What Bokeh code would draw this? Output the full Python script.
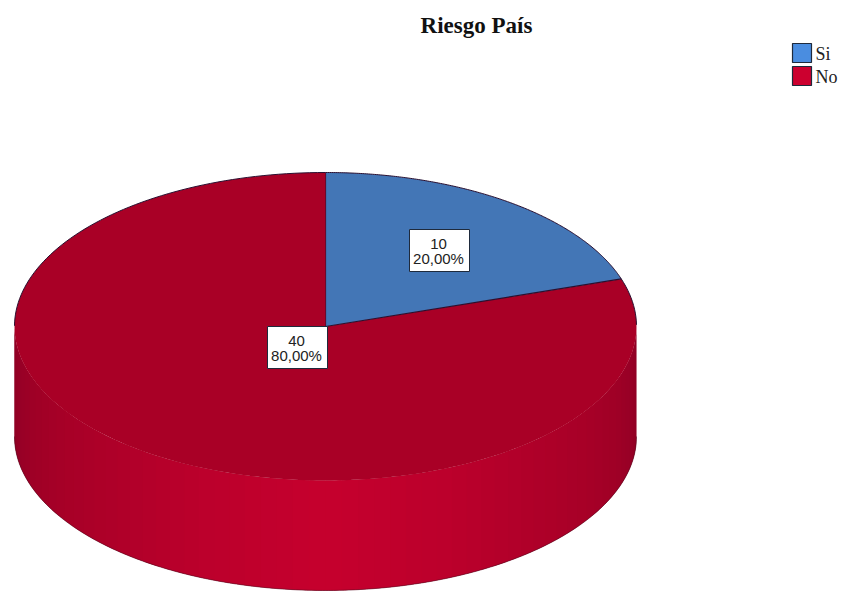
import numpy as np
from bokeh.plotting import figure
from bokeh.models import Range1d
from bokeh.core.properties import value
from bokeh.embed import file_html
from bokeh.resources import INLINE

title = "Riesgo País"
categories = ["Si", "No"]
counts = [10, 40]
percent_labels = ["20,00%", "80,00%"]
top_colors = ["#4376b6", "#a90026"]
legend_colors = ["#4a8de0", "#cc002f"]
edge_color = "#2a1030"

# page-pixel frame of the reference picture
CX, CY, RX, RY, DEPTH = 325.0, 326.0, 311.0, 154.0, 110.0

p = figure(width=843, height=591, output_backend="svg", toolbar_location=None,
           x_range=Range1d(0, 843), y_range=Range1d(591, 0),
           min_border=0, min_border_left=0, min_border_right=0,
           min_border_top=0, min_border_bottom=0, outline_line_color=None,
           background_fill_color="white", border_fill_color="white")
p.axis.visible = False
p.grid.visible = False


def rim(theta):
    return CX + RX * np.sin(theta), CY - RY * np.cos(theta)


# side wall: front half of the cylinder, shaded by angle; strips overlap so no seams show
shade_pos = [0.0, 0.1, 0.3, 0.5, 0.75, 1.0]
shade_r = [0x8c, 0x96, 0xa4, 0xae, 0xbc, 0xc6]
shade_g = [0x00, 0x00, 0x00, 0x00, 0x00, 0x00]
shade_b = [0x24, 0x26, 0x27, 0x29, 0x2c, 0x2e]
edges = np.radians(np.arange(90, 270.01, 3.0))
xs_side, ys_side, cols_side = [], [], []
for k, (a0, a1) in enumerate(zip(edges[:-1], edges[1:])):
    t = np.linspace(a0, min(a1 + np.radians(3.0), edges[-1]), 10)
    x, y = rim(t)
    xs_side.append(np.r_[x, x[::-1]])
    ys_side.append(np.r_[y, (y + DEPTH)[::-1]])
    # 0 at the silhouette edges, 1 at the front
    f = 1 - abs((a0 + a1) / 2 - np.pi) / (np.pi / 2)
    cols_side.append("#%02x%02x%02x" % (
        int(np.interp(f, shade_pos, shade_r)),
        int(np.interp(f, shade_pos, shade_g)),
        int(np.interp(f, shade_pos, shade_b))))
p.patches(xs_side, ys_side, fill_color=cols_side, line_color=None)

# lower outline of the wall
t = np.linspace(np.pi / 2, 3 * np.pi / 2, 180)
x, y = rim(t)
p.line(x, y + DEPTH, line_color="#5a0a20", line_width=1, line_alpha=0.6)

# top face, drawn clockwise from 12 o'clock, from the counts
fractions = np.array(counts, dtype=float) / sum(counts)
bounds = np.r_[0, np.cumsum(fractions)] * 2 * np.pi
for i in range(len(counts)):
    t = np.linspace(bounds[i], bounds[i + 1], 200)
    x, y = rim(t)
    p.patch(np.r_[CX, x, CX], np.r_[CY, y, CY], fill_color=top_colors[i], line_color=None)
    # dark rim only on the back half, the front edge blends into the wall
    seg = (t <= np.pi / 2) | (t >= 3 * np.pi / 2)
    xr, yr = x.copy(), y.copy()
    xr[~seg] = np.nan
    yr[~seg] = np.nan
    p.line(xr, yr, line_color=edge_color, line_width=1)
    xe, ye = rim(np.array([bounds[i]]))
    p.line([CX, xe[0]], [CY, ye[0]], line_color=edge_color, line_width=1.2)

# value labels
label_boxes = [(409, 229, 469, 271), (267, 326, 327, 368)]
for i, (x0, y0, x1, y1) in enumerate(label_boxes):
    p.quad(left=[x0], right=[x1], top=[y0], bottom=[y1], fill_color="white",
           line_color="#1e2a3c", line_width=1)
    xc = (x0 + x1) / 2 - 1
    p.text([xc], [y0 + 14], text=[str(counts[i])], text_align="center",
           text_baseline="middle", text_font=value("Liberation Sans"),
           text_font_size="15px", text_color="#222222")
    p.text([xc], [y0 + 29], text=[percent_labels[i]], text_align="center",
           text_baseline="middle", text_font=value("Liberation Sans"),
           text_font_size="15px", text_color="#222222")

# title
p.text([476], [25], text=[title], text_align="center", text_baseline="middle",
       text_font=value("Liberation Serif"), text_font_style="bold",
       text_font_size="23px", text_color="#111111")

# legend
legend_rows = [(43, 62), (66, 85)]
for i, (y0, y1) in enumerate(legend_rows):
    p.quad(left=[792], right=[811], top=[y0], bottom=[y1], fill_color=legend_colors[i],
           line_color="#1e2a3c", line_width=1.2)
    p.text([815], [(y0 + y1) / 2 + 1], text=[categories[i]], text_align="left",
           text_baseline="middle", text_font=value("Liberation Serif"),
           text_font_size="18px", text_color="#222222")

open("out.html", "w").write(file_html(p, INLINE))
